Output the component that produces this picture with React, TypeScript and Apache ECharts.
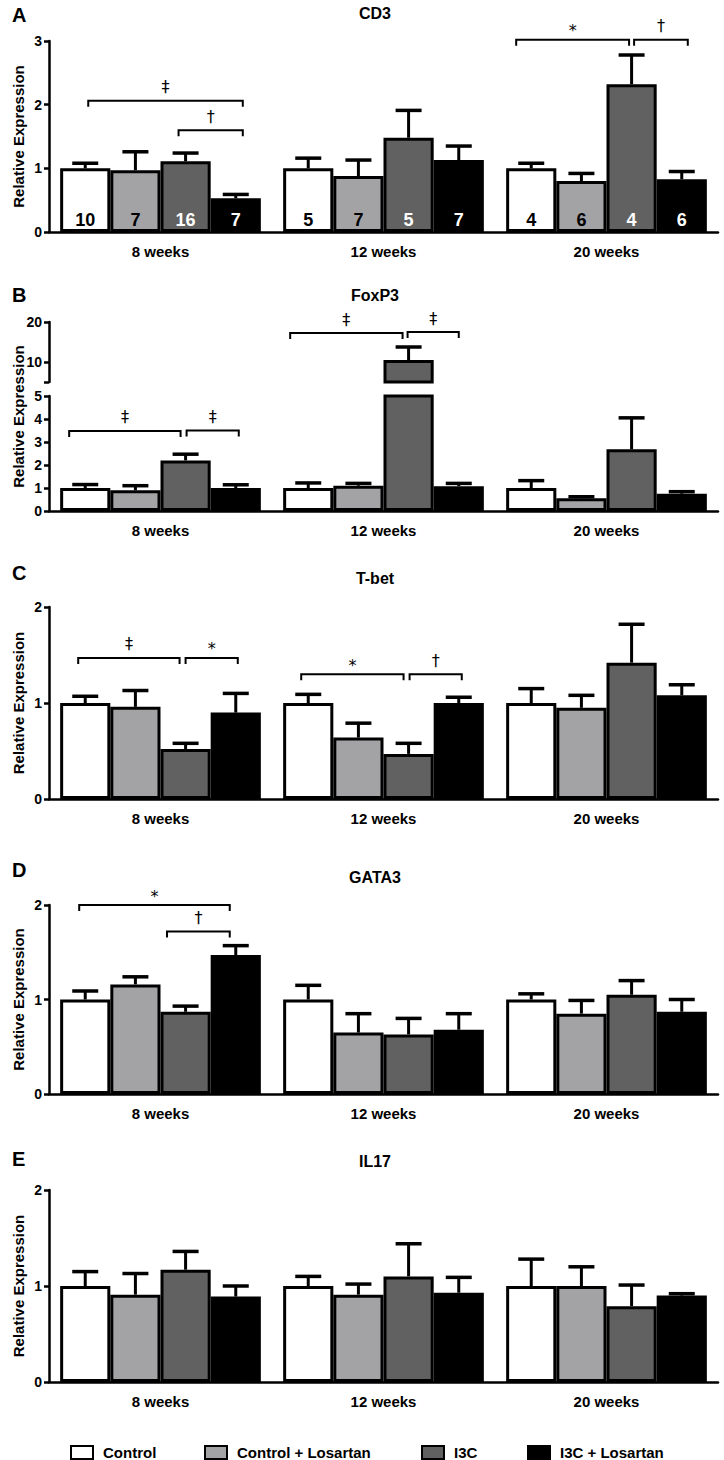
import React, { useEffect, useRef } from 'react';
import * as echarts from 'echarts';

const FONT = "'Liberation Sans', Arial, Helvetica, sans-serif";

const categories = ['8 weeks', '12 weeks', '20 weeks'];
const groups = ['Control', 'Control + Losartan', 'I3C', 'I3C + Losartan'];
const groupColors = ['#ffffff', '#a3a3a6', '#616161', '#000000'];
const groupLabelColors = ['#000000', '#000000', '#ffffff', '#ffffff'];

// ---- CD3 (means and upper end of error bar) ----
const cd3Control = [1.0, 1.0, 1.0];
const cd3ControlHi = [1.08, 1.16, 1.08];
const cd3ControlLos = [0.97, 0.88, 0.8];
const cd3ControlLosHi = [1.26, 1.13, 0.92];
const cd3I3C = [1.11, 1.48, 2.32];
const cd3I3CHi = [1.24, 1.91, 2.78];
const cd3I3CLos = [0.53, 1.13, 0.83];
const cd3I3CLosHi = [0.59, 1.35, 0.95];
const cd3N = [
  [10, 5, 4],
  [7, 7, 6],
  [16, 5, 4],
  [7, 7, 6],
];

// ---- FoxP3 ----
const foxControl = [1.0, 1.0, 1.0];
const foxControlHi = [1.15, 1.22, 1.32];
const foxControlLos = [0.9, 1.1, 0.55];
const foxControlLosHi = [1.1, 1.2, 0.62];
const foxI3C = [2.2, 10.5, 2.68];
const foxI3CHi = [2.47, 13.75, 4.05];
const foxI3CLos = [1.0, 1.08, 0.75];
const foxI3CLosHi = [1.14, 1.2, 0.84];

// ---- T-bet ----
const tbetControl = [1.0, 1.0, 1.0];
const tbetControlHi = [1.07, 1.09, 1.15];
const tbetControlLos = [0.96, 0.64, 0.95];
const tbetControlLosHi = [1.13, 0.79, 1.08];
const tbetI3C = [0.52, 0.47, 1.42];
const tbetI3CHi = [0.58, 0.58, 1.82];
const tbetI3CLos = [0.9, 1.0, 1.08];
const tbetI3CLosHi = [1.1, 1.06, 1.19];

// ---- GATA3 ----
const gataControl = [1.0, 1.0, 1.0];
const gataControlHi = [1.09, 1.15, 1.06];
const gataControlLos = [1.16, 0.65, 0.85];
const gataControlLosHi = [1.24, 0.85, 0.99];
const gataI3C = [0.87, 0.63, 1.05];
const gataI3CHi = [0.93, 0.8, 1.2];
const gataI3CLos = [1.47, 0.68, 0.87];
const gataI3CLosHi = [1.57, 0.85, 1.0];

// ---- IL17 ----
const il17Control = [1.0, 1.0, 1.0];
const il17ControlHi = [1.15, 1.1, 1.28];
const il17ControlLos = [0.91, 0.91, 1.0];
const il17ControlLosHi = [1.13, 1.02, 1.2];
const il17I3C = [1.17, 1.1, 0.79];
const il17I3CHi = [1.36, 1.44, 1.01];
const il17I3CLos = [0.89, 0.93, 0.9];
const il17I3CLosHi = [1.0, 1.09, 0.92];

// ---- significance brackets: category, from bar, to bar (bar index 0..3), height, symbol ----
type Bracket = { cat: number; from: number; to: number; y: number; sym: string };
const cd3Brackets: Bracket[] = [
  { cat: 0, from: 0.06, to: 3.14, y: 2.06, sym: '‡' },
  { cat: 0, from: 1.86, to: 3.14, y: 1.6, sym: '†' },
  { cat: 2, from: -0.3, to: 1.95, y: 3.02, sym: '*' },
  { cat: 2, from: 2.05, to: 3.12, y: 3.02, sym: '†' },
];
const foxLowBrackets: Bracket[] = [
  { cat: 0, from: -0.32, to: 1.9, y: 3.48, sym: '‡' },
  { cat: 0, from: 2.02, to: 3.06, y: 3.5, sym: '‡' },
];
const foxHighBrackets: Bracket[] = [
  { cat: 1, from: -0.36, to: 1.88, y: 17.25, sym: '‡' },
  { cat: 1, from: 1.98, to: 3.0, y: 17.5, sym: '‡' },
];
const tbetBrackets: Bracket[] = [
  { cat: 0, from: -0.14, to: 1.88, y: 1.47, sym: '‡' },
  { cat: 0, from: 2.0, to: 3.04, y: 1.47, sym: '*' },
  { cat: 1, from: -0.14, to: 1.9, y: 1.3, sym: '*' },
  { cat: 1, from: 2.02, to: 3.06, y: 1.3, sym: '†' },
];
const gataBrackets: Bracket[] = [
  { cat: 0, from: -0.12, to: 2.88, y: 2.0, sym: '*' },
  { cat: 0, from: 1.63, to: 2.88, y: 1.72, sym: '†' },
];

function buildOption() {
  const grid: any[] = [];
  const xAxis: any[] = [];
  const yAxis: any[] = [];
  const series: any[] = [];
  const graphic: any[] = [];
  const axisLineStyle = { color: '#000', width: 2.5 };

  function addAxes(top: number, height: number, y: any, showX: boolean) {
    const idx = grid.length;
    grid.push({ left: 49, right: 6, top, height, containLabel: false, outerBoundsMode: 'none' });
    xAxis.push({
      type: 'category',
      gridIndex: idx,
      data: categories,
      axisLine: { show: showX, onZero: false, lineStyle: axisLineStyle },
      axisTick: { show: false },
      axisLabel: { show: showX, margin: 12, color: '#000', fontFamily: FONT, fontWeight: 'bold', fontSize: 15 },
      splitLine: { show: false },
    });
    const tick: any = { show: true, length: 5, lineStyle: { color: '#000', width: 2.5 } };
    if (y.tickValues) tick.customValues = y.tickValues;
    const lab: any = { margin: 7, color: '#000', fontFamily: FONT, fontWeight: 'bold', fontSize: 14 };
    if (y.labelValues) {
      lab.customValues = y.labelValues;
      lab.formatter = (v: number) => (y.labelValues.indexOf(v) >= 0 ? String(v) : '');
    }
    yAxis.push({
      type: 'value',
      gridIndex: idx,
      min: y.min,
      max: y.max,
      interval: y.interval,
      axisLine: { show: true, onZero: false, lineStyle: axisLineStyle },
      axisTick: tick,
      axisLabel: lab,
      splitLine: { show: false },
    });
    return idx;
  }

  function addBars(idx: number, means: number[][], his: number[][], yMin: number, yMax: number, counts?: number[][]) {
    means.forEach((vals, s) => {
      series.push({
        type: 'bar',
        name: groups[s],
        xAxisIndex: idx,
        yAxisIndex: idx,
        data: vals.map((v) => (v > yMin ? v : '-')),
        barGap: '0%',
        barCategoryGap: '10%',
        clip: true,
        z: 2,
        itemStyle: { color: groupColors[s], borderColor: '#000', borderWidth: 3 },
        emphasis: { disabled: true },
        label: counts
          ? {
              show: true,
              position: 'insideBottom',
              distance: 3,
              formatter: (p: any) => String(counts[s][p.dataIndex]),
              color: groupLabelColors[s],
              fontFamily: FONT,
              fontWeight: 'bold',
              fontSize: 18,
            }
          : { show: false },
      });
      const errData = vals
        .map((m, i) => [i, Math.max(m, yMin), Math.min(his[s][i], yMax)])
        .filter((d, i) => vals[i] < yMax && his[s][i] > yMin);
      series.push({
        type: 'custom',
        xAxisIndex: idx,
        yAxisIndex: idx,
        clip: true,
        z: 3,
        silent: true,
        data: errData,
        encode: { x: 0, y: [1, 2] },
        renderItem: (params: any, api: any) => {
          const cat = api.value(0);
          const m = api.value(1);
          const hi = api.value(2);
          const band = api.coord([1, yMin])[0] - api.coord([0, yMin])[0];
          const bw = (band * 0.9) / 4;
          const p1 = api.coord([cat, m]);
          const p2 = api.coord([cat, hi]);
          const x = p1[0] + (s - 1.5) * bw;
          return {
            type: 'group',
            children: [
              { type: 'line', shape: { x1: x, y1: p1[1], x2: x, y2: p2[1] }, style: { stroke: '#000', lineWidth: 3 } },
              { type: 'line', shape: { x1: x - 13, y1: p2[1], x2: x + 13, y2: p2[1] }, style: { stroke: '#000', lineWidth: 3.5 } },
            ],
          };
        },
      });
    });
  }

  function addBrackets(idx: number, list: Bracket[], yMin: number) {
    series.push({
      type: 'custom',
      xAxisIndex: idx,
      yAxisIndex: idx,
      clip: false,
      z: 4,
      silent: true,
      data: list.map((b) => [b.cat, b.y]),
      renderItem: (params: any, api: any) => {
        const b = list[params.dataIndex];
        const band = api.coord([1, yMin])[0] - api.coord([0, yMin])[0];
        const bw = (band * 0.9) / 4;
        const c = api.coord([b.cat, b.y]);
        const x1 = c[0] + (b.from - 1.5) * bw;
        const x2 = c[0] + (b.to - 1.5) * bw;
        const y = c[1];
        return {
          type: 'group',
          children: [
            {
              type: 'polyline',
              shape: { points: [[x1, y + 6], [x1, y], [x2, y], [x2, y + 6]] },
              style: { stroke: '#000', lineWidth: 2, fill: 'none' },
            },
            {
              type: 'text',
              x: (x1 + x2) / 2,
              y: y - (b.sym === '*' ? 9 : 14),
              style: {
                text: b.sym,
                textAlign: 'center',
                textVerticalAlign: 'middle',
                font: `16px 'DejaVu Sans', ${FONT}`,
                fill: '#000',
              },
            },
          ],
        };
      },
    });
  }

  // Panel A: CD3
  const a = addAxes(41, 191, { min: 0, max: 3, interval: 1 }, true);
  addBars(a, [cd3Control, cd3ControlLos, cd3I3C, cd3I3CLos], [cd3ControlHi, cd3ControlLosHi, cd3I3CHi, cd3I3CLosHi], 0, 3, cd3N);
  addBrackets(a, cd3Brackets, 0);

  // Panel B: FoxP3 (broken axis)
  const foxMeans = [foxControl, foxControlLos, foxI3C, foxI3CLos];
  const foxHis = [foxControlHi, foxControlLosHi, foxI3CHi, foxI3CLosHi];
  const bHigh = addAxes(322, 60, { min: 5, max: 20, interval: 5, tickValues: [5, 10, 20], labelValues: [10, 20] }, false);
  addBars(bHigh, foxMeans, foxHis, 5, 20);
  addBrackets(bHigh, foxHighBrackets, 5);
  const bLow = addAxes(396, 115, { min: 0, max: 5, interval: 1 }, true);
  addBars(bLow, foxMeans, foxHis, 0, 5);
  addBrackets(bLow, foxLowBrackets, 0);

  // Panel C: T-bet
  const c = addAxes(607, 192, { min: 0, max: 2, interval: 1 }, true);
  addBars(c, [tbetControl, tbetControlLos, tbetI3C, tbetI3CLos], [tbetControlHi, tbetControlLosHi, tbetI3CHi, tbetI3CLosHi], 0, 2);
  addBrackets(c, tbetBrackets, 0);

  // Panel D: GATA3
  const d = addAxes(905, 189, { min: 0, max: 2, interval: 1 }, true);
  addBars(d, [gataControl, gataControlLos, gataI3C, gataI3CLos], [gataControlHi, gataControlLosHi, gataI3CHi, gataI3CLosHi], 0, 2);
  addBrackets(d, gataBrackets, 0);

  // Panel E: IL17
  const e = addAxes(1190, 192, { min: 0, max: 2, interval: 1 }, true);
  addBars(e, [il17Control, il17ControlLos, il17I3C, il17I3CLos], [il17ControlHi, il17ControlLosHi, il17I3CHi, il17I3CLosHi], 0, 2);

  const titles = [
    { t: 'CD3', l: 'A', y: 13, ly: 15, ny: 136.5 },
    { t: 'FoxP3', l: 'B', y: 295, ly: 295, ny: 416.5 },
    { t: 'T-bet', l: 'C', y: 578, ly: 573, ny: 703 },
    { t: 'GATA3', l: 'D', y: 877, ly: 870, ny: 999.5 },
    { t: 'IL17', l: 'E', y: 1161, ly: 1159, ny: 1286 },
  ];
  titles.forEach((p) => {
    graphic.push({
      type: 'text',
      x: 375,
      y: p.y,
      style: { text: p.t, textAlign: 'center', textVerticalAlign: 'middle', font: `bold 16px ${FONT}`, fill: '#000' },
    });
    graphic.push({
      type: 'text',
      x: 12,
      y: p.ly,
      style: { text: p.l, textAlign: 'left', textVerticalAlign: 'middle', font: `bold 20px ${FONT}`, fill: '#000' },
    });
    graphic.push({
      type: 'text',
      x: 18,
      y: p.ny,
      rotation: Math.PI / 2,
      style: { text: 'Relative Expression', textAlign: 'center', textVerticalAlign: 'middle', font: `bold 15px ${FONT}`, fill: '#000' },
    });
  });

  const legendLeft = [65, 199, 416, 522];
  const legend = groups.map((g, i) => ({
    data: [g],
    left: legendLeft[i],
    top: 1440,
    orient: 'horizontal',
    icon: 'rect',
    itemWidth: 22,
    itemHeight: 13,
    selectedMode: false,
    itemStyle: { color: groupColors[i], borderColor: '#000', borderWidth: 2 },
    textStyle: { color: '#000', fontFamily: FONT, fontWeight: 'bold', fontSize: 15, padding: [0, 0, 0, 5] },
  }));

  return {
    animation: false,
    backgroundColor: '#ffffff',
    textStyle: { fontFamily: FONT },
    grid,
    xAxis,
    yAxis,
    series,
    legend,
    graphic,
    tooltip: { show: false },
  };
}

export default function App() {
  const ref = useRef<HTMLDivElement>(null);
  useEffect(() => {
    if (!ref.current) return;
    const chart = echarts.init(ref.current, null, { renderer: 'svg' });
    chart.setOption(buildOption() as any);
    return () => chart.dispose();
  }, []);
  return (
    <div
      ref={ref}
      style={{ position: 'absolute', left: 0, top: 0, width: 724, height: 1460, background: '#fff' }}
    />
  );
}
